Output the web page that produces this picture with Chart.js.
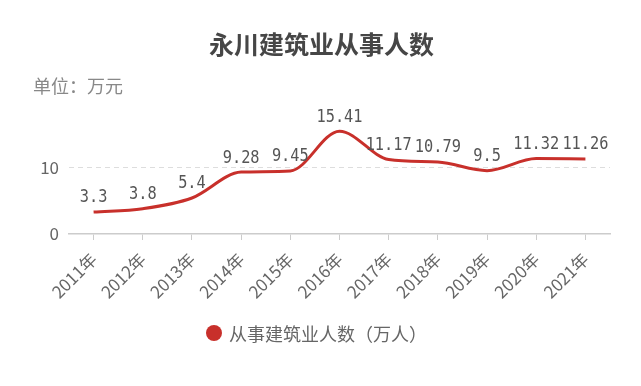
<!DOCTYPE html>
<html>
<head>
<meta charset="utf-8">
<script src="https://cdn.jsdelivr.net/npm/chart.js@4/dist/chart.umd.min.js"></script>
<style>
  body { margin: 0; background: #fff; }
  #wrap { position: relative; width: 641px; height: 386px; }
  #legend { position: absolute; left: 206px; top: 323px; height: 20px; display: flex; align-items: center;
            font-family: "Noto Sans CJK SC", sans-serif; font-size: 18px; color: #666; white-space: nowrap; }
  #legend .dot { width: 16px; height: 16px; border-radius: 50%; background: #c8302b; margin-right: 7px; }
</style>
</head>
<body>
<div id="wrap">
  <canvas id="chart" width="641" height="386"></canvas>
  <div id="legend"><span class="dot"></span><span>从事建筑业人数（万人）</span></div>
</div>
<script>
const years = ['2011年', '2012年', '2013年', '2014年', '2015年', '2016年', '2017年', '2018年', '2019年', '2020年', '2021年'];
const workers = [3.3, 3.8, 5.4, 9.28, 9.45, 15.41, 11.17, 10.79, 9.5, 11.32, 11.26];
const valueLabels = ['3.3', '3.8', '5.4', '9.28', '9.45', '15.41', '11.17', '10.79', '9.5', '11.32', '11.26'];
const yTicks = [0, 10];

const lineRed = '#c8302b';
const cjk = '"Noto Sans CJK SC", sans-serif';

// value labels above each point (narrow mono digits like the original)
const pointLabels = {
    id: 'pointLabels',
    afterDatasetsDraw(chart) {
        const ctx = chart.ctx;
        const meta = chart.getDatasetMeta(0);
        ctx.save();
        ctx.font = '17px "DejaVu Sans Mono", monospace';
        ctx.fillStyle = '#555';
        ctx.textAlign = 'center';
        ctx.textBaseline = 'middle';
        meta.data.forEach((pt, i) => {
            ctx.save();
            ctx.translate(pt.x, pt.y - 14);
            ctx.scale(0.9, 1);
            ctx.fillText(valueLabels[i], 0, 0);
            ctx.restore();
        });
        ctx.restore();
    }
};

new Chart(document.getElementById('chart'), {
    type: 'line',
    data: {
        labels: years,
        datasets: [{
            label: '从事建筑业人数（万人）',
            data: workers,
            borderColor: lineRed,
            backgroundColor: lineRed,
            borderWidth: 3,
            pointRadius: 0,
            cubicInterpolationMode: 'monotone',
            fill: false
        }]
    },
    options: {
        responsive: false,
        animation: false,
        devicePixelRatio: 1,
        layout: { padding: { left: 33, right: 31, top: 0, bottom: 82 } },
        plugins: {
            legend: { display: false },
            tooltip: { enabled: false },
            title: {
                display: true,
                text: '永川建筑业从事人数',
                color: '#464646',
                font: { family: cjk, size: 25, weight: 'bold' },
                padding: { top: 29, bottom: 16 }
            },
            subtitle: {
                display: true,
                text: '单位：万元',
                align: 'start',
                color: '#888',
                font: { family: cjk, size: 18 },
                padding: { top: 0, bottom: 4 }
            }
        },
        scales: {
            x: {
                offset: true,
                afterFit(s) { s.height = 70; },
                grid: { offset: false, drawOnChartArea: false, drawTicks: true, tickLength: 6, color: '#ccc' },
                border: { color: '#ccc', width: 1.5 },
                ticks: { autoSkip: false, maxRotation: 45, minRotation: 45, padding: 9, color: '#666', font: { family: cjk, size: 17 } }
            },
            y: {
                min: 0,
                max: 20,
                afterFit(s) { s.width = 36; },
                afterBuildTicks(s) { s.ticks = yTicks.map(v => ({ value: v })); },
                border: { display: false, dash: [5, 4] },
                grid: {
                    drawTicks: false,
                    color: c => c.tick && c.tick.value === 0 ? 'rgba(0,0,0,0)' : '#ddd'
                },
                ticks: { padding: 10, color: '#666', font: { family: cjk, size: 17 } }
            }
        }
    },
    plugins: [pointLabels]
});
</script>
</body>
</html>
